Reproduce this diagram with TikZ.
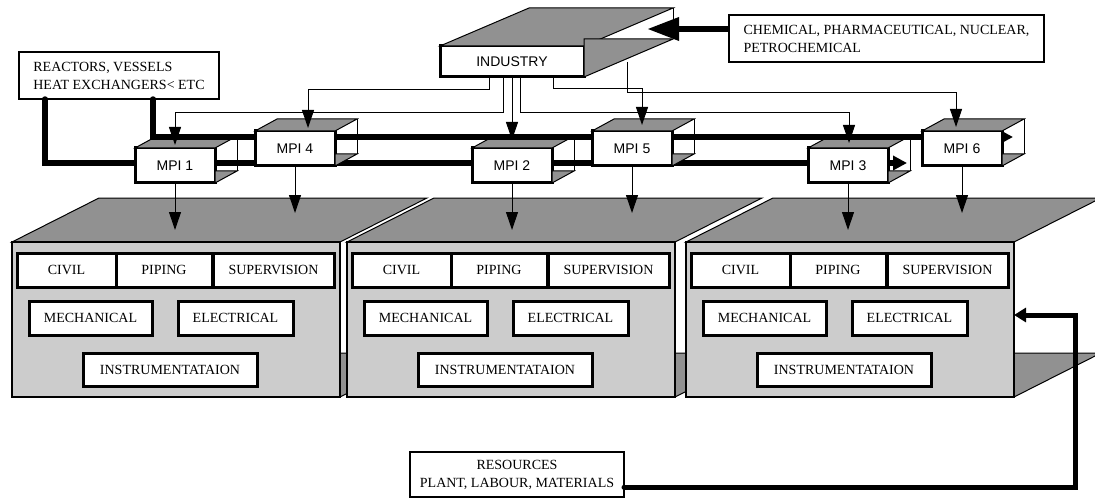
\documentclass[tikz,border=0pt]{standalone}
\usepackage{fontspec}
\setmainfont{Liberation Serif}
\newfontfamily\arialfont{Liberation Sans}
\usetikzlibrary{arrows.meta,positioning}
\definecolor{topgray}{RGB}{145,145,145}
\definecolor{frontgray}{RGB}{204,204,204}

\tikzset{
  face/.style={draw, line width=0.5pt, fill=topgray},
  panel/.style={draw, line width=0.6pt, fill=frontgray, minimum width=164pt, minimum height=77.5pt, inner sep=0pt, outer sep=0pt},
  dept/.style={draw, line width=1.5pt, fill=white, minimum height=17pt, inner sep=0pt, outer sep=0pt, font=\fontsize{7}{9}\selectfont},
  mpi/.style={draw, line width=1.5pt, fill=white, minimum width=40pt, minimum height=17.5pt, inner sep=0pt, outer sep=0pt, font=\arialfont\fontsize{7}{9}\selectfont},
  textbox/.style={draw, line width=0.6pt, fill=white, inner sep=0pt, outer sep=0pt, align=left, font=\fontsize{7}{9}\selectfont},
  conn/.style={line width=0.5pt, -{Triangle[length=9pt,width=6pt]}},
  bus/.style={line width=2.7pt, line cap=round, -{Triangle[length=7pt,width=7pt]}}
}

\begin{document}
\begin{tikzpicture}[x=0.5pt, y=-0.5pt]
  \useasboundingbox (0,0) rectangle (1095,497);

  \foreach \p/\x in {1/12, 2/347, 3/686} {
    \draw[face] (\x,242) -- ++(87,-44) -- ++(328,0) -- ++(-87,44) -- cycle;
    \draw[face] (\x+328,353) -- ++(87,0) -- (\x+328,397) -- cycle;
    \node[panel] (panel\p) at (\x+164,319.5) {};
    \node[dept, minimum width=49.5pt, anchor=north west] (civil\p) at ([shift={(5,11)}]panel\p.north west) {CIVIL};
    \node[dept, minimum width=48pt, right=0pt of civil\p] (piping\p) {PIPING};
    \node[dept, minimum width=60.5pt, right=0.5pt of piping\p] (super\p) {SUPERVISION};
    \node[dept, minimum width=61.5pt, anchor=north west] (mech\p) at ([shift={(17,59)}]panel\p.north west) {MECHANICAL};
    \node[dept, minimum width=57.5pt, right=13pt of mech\p] (elec\p) {ELECTRICAL};
    \node[dept, minimum width=87pt, minimum height=16.5pt, anchor=north west] (instr\p) at ([shift={(71,111)}]panel\p.north west) {INSTRUMENTATAION};
  }

  \node[textbox, minimum width=100pt, minimum height=23.5pt] (reac) at (119,75.5) {REACTORS, VESSELS\\HEAT EXCHANGERS< ETC};
  \node[textbox, minimum width=157.5pt, minimum height=23.5pt] (chem) at (886.5,38.5) {CHEMICAL, PHARMACEUTICAL, NUCLEAR,\\PETROCHEMICAL};
  \node[textbox, align=center, minimum width=107pt, minimum height=22.5pt] (res) at (517,474.5) {RESOURCES\\PLANT, LABOUR, MATERIALS};

  \coordinate (bus2end) at (907,163);
  \coordinate (bus1end) at (1013,137);
  \draw[bus] ([shift={(26,0)}]reac.south west) |- (bus2end);

  \foreach \n/\x in {1/175, 2/512, 3/848} {
    \node[mpi] (mpi\n) at (\x,165.5) {MPI \n};
    \draw[face] (mpi\n.north west) -- ++(22,-12) -- ++(80,0) -- (mpi\n.north east) -- cycle;
    \draw[face] (mpi\n.south east) -- ++(22,-12) -- ++(-22,0) -- cycle;
    \draw[line width=0.5pt] ([shift={(22,-12)}]mpi\n.north east) -- ++(0,35);
  }

  \draw[bus] ([shift={(134,0)}]reac.south west) |- (bus1end);

  \foreach \n/\x in {4/295, 5/632, 6/962} {
    \node[mpi] (mpi\n) at (\x,148.5) {MPI \n};
    \draw[face] (mpi\n.north west) -- ++(22,-12) -- ++(80,0) -- (mpi\n.north east) -- cycle;
    \draw[face] (mpi\n.south east) -- ++(22,-12) -- ++(-22,0) -- cycle;
    \draw[line width=0.5pt] ([shift={(22,-12)}]mpi\n.north east) -- ++(0,35);
  }

  \node[mpi, minimum width=72pt, minimum height=15.5pt] (ind) at (512,61.5) {INDUSTRY};
  \draw[face] (ind.north west) -- ++(89,-38) -- ++(144,0) -- (ind.north east) -- cycle;
  \draw[face] (ind.south east) -- ++(89,-38) -- ++(-89,0) -- cycle;
  \draw[line width=0.5pt] ([shift={(89,-38)}]ind.north east) -- ++(0,31);

  \coordinate (indtip) at ([shift={(63,-17)}]ind.north east);
  \draw[line width=3.2pt, -{Triangle[length=16pt,width=11pt]}] ([shift={(0,-9.5)}]chem.west) -- (indtip);

  \draw[conn] ([shift={(-23,0)}]ind.south) -- ++(0,13) -| ([shift={(13,-3)}]mpi4.north);
  \draw[conn] ([shift={(-9,0)}]ind.south) -- ++(0,36) -| ([shift={(0,-3)}]mpi1.north);
  \draw[conn] (ind.south) -- ([shift={(0,-8)}]mpi2.north);
  \draw[conn] ([shift={(8,0)}]ind.south) -- ++(0,36) -| ([shift={(1,-5)}]mpi3.north);
  \draw[conn] ([shift={(41,0)}]ind.south) -- ++(0,12) -| ([shift={(10,-6)}]mpi5.north);
  \draw[conn] ([shift={(43,-15)}]ind.south east) -- ++(0,31) -| ([shift={(-6,-4)}]mpi6.north);

  \foreach \n in {1,...,6}
    \draw[conn] (mpi\n.south) -- ++(0,47);

  \draw[line width=2.5pt, line cap=round, -{Triangle[length=6pt,width=7pt]}] ([shift={(0,12.5)}]res.east) -| (1075,315) -- ([shift={(0,-4.5)}]panel3.east);
\end{tikzpicture}
\end{document}
